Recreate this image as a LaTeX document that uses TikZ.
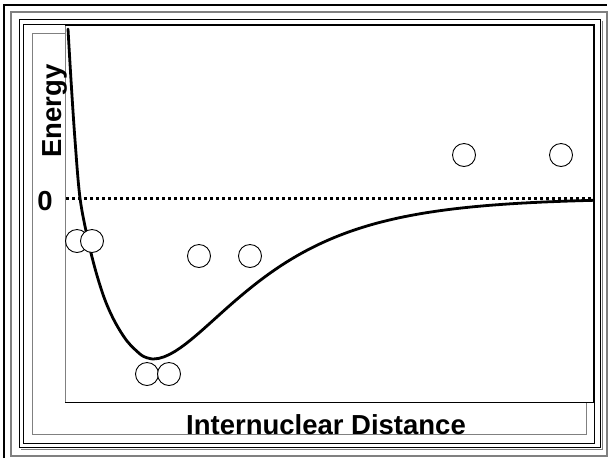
\documentclass[tikz,border=0pt]{standalone}
\usepackage{fontspec}
\setmainfont{Liberation Sans}
\begin{document}
\begin{tikzpicture}[x=1pt,y=-1pt,
  atom/.style={circle,draw=black,fill=white,line width=0.9pt,minimum size=23pt,inner sep=0pt},
  lbl/.style={font=\fontsize{27.5}{27.5}\selectfont\bfseries,inner sep=0pt},
  framegrey/.style={draw=gray,line width=1.4pt},
  frameblack/.style={draw=black,line width=1pt}]
\useasboundingbox (0,0) rectangle (609,459);
% slide frame
\draw[framegrey] (11,12) rectangle (607,456);
\draw[black,line width=2.5pt] (4,458) -- (4,5) -- (607,5);
\draw[frameblack] (19,19) rectangle (600,447);
\draw[gray,line width=1pt] (602,21) -- (602,449) -- (21,449);
\draw[frameblack] (23,24) rectangle (594,443);
\draw[gray,line width=1pt] (32,33) rectangle (586,434);
% plot area
\fill[white] (65,25) rectangle (594,402);
\draw[gray,line width=1pt] (65,25) -- (65,402);
\draw[black,line width=1pt] (65,402) -- (594,402);
\draw[black,line width=2pt] (65,25) -- (594,25) -- (594,402);
% zero line
\coordinate (z0) at (66,198);
\coordinate (z1) at (593,198);
\draw[black,line width=3pt,dash pattern=on 3pt off 3pt] (z0) -- (z1);
% potential curve
\draw[black,line width=2.8pt,line cap=round,line join=round]
 plot[smooth,tension=0.55] coordinates {
 (68,29) (71,80) (75,140) (80,198) (88,240) (96,272) (105,300) (115,322)
 (127,341) (140,354) (147,357.8) (153,359)}
 -- plot[domain=153:593,samples=80] (\x,{359-161*(1-exp(-0.0112*(\x-153)))^2});
% atoms
\node[atom] (a1) at (77,241) {};
\node[atom] (a2) at (92,241) {};
\node[atom] (b1) at (199,256) {};
\node[atom] (b2) at (250,256) {};
\node[atom] (c1) at (147,374) {};
\node[atom] (c2) at (169,374) {};
\node[atom] (d1) at (464,155) {};
\node[atom] (d2) at (561,155) {};
% labels
\node[lbl] (zero) at (45,201) {0};
\node[lbl,rotate=90] (energy) at (55,111) {Energy};
\node[lbl] (xlab) at (326,425) {Internuclear Distance};
\end{tikzpicture}
\end{document}
